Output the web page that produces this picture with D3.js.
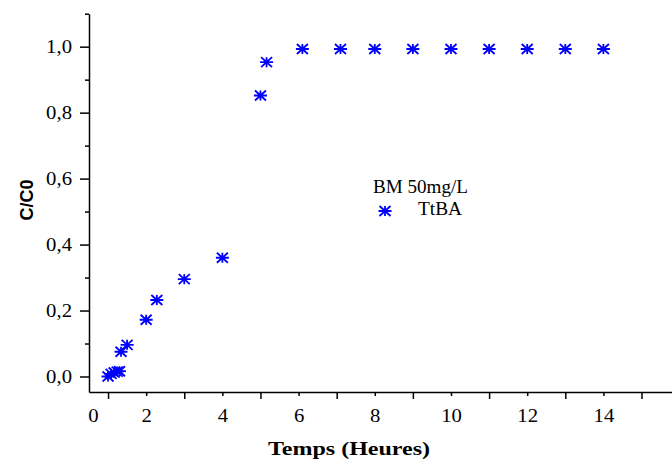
<!DOCTYPE html>
<html>
<head>
<meta charset="utf-8">
<script src="https://cdn.jsdelivr.net/npm/d3@7"></script>
<style>
  body { margin: 0; background: #fff; }
  .axis path, .axis line { stroke: #000; stroke-width: 1.5; }
</style>
</head>
<body>
<div id="chart"></div>
<script>
// time (hours) and C/C0
var temps = [1.0, 1.08, 1.16, 1.24, 1.3, 1.34, 1.5, 2.0, 2.28, 3.0, 4.0, 5.0, 5.16,
             6.1, 7.1, 8.0, 9.0, 10.0, 11.0, 12.0, 13.0, 14.0];
var ratio = [0.0, 0.008, 0.012, 0.015, 0.016, 0.075, 0.096, 0.172, 0.232, 0.295, 0.36, 0.852, 0.953,
             0.993, 0.993, 0.993, 0.993, 0.993, 0.993, 0.993, 0.993, 0.993];

var xLabelAt = [0.6, 2, 4, 6, 8, 10, 12, 14];
var xLabels = ['0', '2', '4', '6', '8', '10', '12', '14'];
var yMajor = [0, 0.2, 0.4, 0.6, 0.8, 1.0];
var yLabels = ['0,0', '0,2', '0,4', '0,6', '0,8', '1,0'];
var yMinor = [0.1, 0.3, 0.5, 0.7, 0.9, 1.1];

var W = 672, H = 461;
var serif = '"Liberation Serif", "Times New Roman", serif';
var svg = d3.select('#chart').append('svg')
    .attr('width', W)
    .attr('height', H);

var x = d3.scaleLinear().domain([0.5, 15.8]).range([89, 672]);
var y = d3.scaleLinear().domain([-0.047, 1.1]).range([392, 13.7]);

// the original labels are a bit wider than plain Times
function styleText(g) {
    g.attr('font-family', null).attr('font-size', null);
    g.selectAll('text')
        .style('font-family', serif)
        .style('font-size', '18px')
        .attr('fill', '#000')
        .each(function () {
            var w = this.getComputedTextLength();
            d3.select(this).attr('textLength', w * 1.15).attr('lengthAdjust', 'spacingAndGlyphs');
        });
}

// x axis: long ticks on odd hours, short on even
var oddTicks = d3.range(1, 16, 2);
var evenTicks = d3.range(2, 16, 2);

svg.append('g')
    .attr('class', 'axis')
    .attr('transform', 'translate(0,' + y.range()[0] + ')')
    .call(d3.axisBottom(x).tickValues(oddTicks).tickSize(7).tickSizeOuter(0).tickFormat(''));
svg.append('g')
    .attr('class', 'axis')
    .attr('transform', 'translate(0,' + y.range()[0] + ')')
    .call(d3.axisBottom(x).tickValues(evenTicks).tickSize(4).tickSizeOuter(0).tickFormat(''))
    .select('.domain').remove();
svg.append('g')
    .attr('class', 'axis')
    .attr('transform', 'translate(0,' + y.range()[0] + ')')
    .call(d3.axisBottom(x).tickValues(xLabelAt).tickSize(0).tickPadding(17)
        .tickFormat(function (d, i) { return xLabels[i]; }))
    .call(function (g) { g.select('.domain').remove(); g.selectAll('line').remove(); })
    .call(styleText);

// y axis
svg.append('g')
    .attr('class', 'axis')
    .attr('transform', 'translate(' + x.range()[0] + ',0)')
    .call(d3.axisLeft(y).tickValues(yMajor).tickSize(9).tickSizeOuter(0).tickPadding(8)
        .tickFormat(function (d, i) { return yLabels[i]; }))
    .call(styleText);
svg.append('g')
    .attr('class', 'axis')
    .attr('transform', 'translate(' + x.range()[0] + ',0)')
    .call(d3.axisLeft(y).tickValues(yMinor).tickSize(4).tickSizeOuter(0).tickFormat(''))
    .select('.domain').remove();

// star marker
var star = 'M-5.5,-5L5.5,5M-5.5,5L5.5,-5M-6.5,0L6.5,0M0,-5L0,5';

svg.append('g').selectAll('path')
    .data(temps)
    .enter()
    .append('path')
    .attr('d', star)
    .attr('transform', function (d, i) { return 'translate(' + x(d) + ',' + y(ratio[i]) + ')'; })
    .attr('fill', 'none')
    .attr('stroke', '#0000ff')
    .attr('stroke-width', 1.8);

// legend
svg.append('text')
    .attr('x', 373)
    .attr('y', 193)
    .style('font-family', serif)
    .attr('font-size', '18px')
    .attr('textLength', 95)
    .attr('lengthAdjust', 'spacingAndGlyphs')
    .text('BM 50mg/L');
svg.append('path')
    .attr('d', star)
    .attr('transform', 'translate(385,211)')
    .attr('fill', 'none')
    .attr('stroke', '#0000ff')
    .attr('stroke-width', 1.8);
svg.append('text')
    .attr('x', 418)
    .attr('y', 215)
    .style('font-family', serif)
    .attr('font-size', '18px')
    .attr('textLength', 44)
    .attr('lengthAdjust', 'spacingAndGlyphs')
    .text('TtBA');

// axis titles
svg.append('text')
    .attr('x', 349)
    .attr('y', 455)
    .attr('text-anchor', 'middle')
    .style('font-family', serif)
    .attr('font-weight', 'bold')
    .attr('font-size', '19px')
    .attr('textLength', 162)
    .attr('lengthAdjust', 'spacingAndGlyphs')
    .text('Temps (Heures)');
svg.append('text')
    .attr('transform', 'translate(33,200) rotate(-90)')
    .attr('text-anchor', 'middle')
    .attr('font-family', 'Liberation Sans, Arial, sans-serif')
    .attr('font-weight', 'bold')
    .attr('font-size', '18px')
    .text('C/C0');
</script>
</body>
</html>
